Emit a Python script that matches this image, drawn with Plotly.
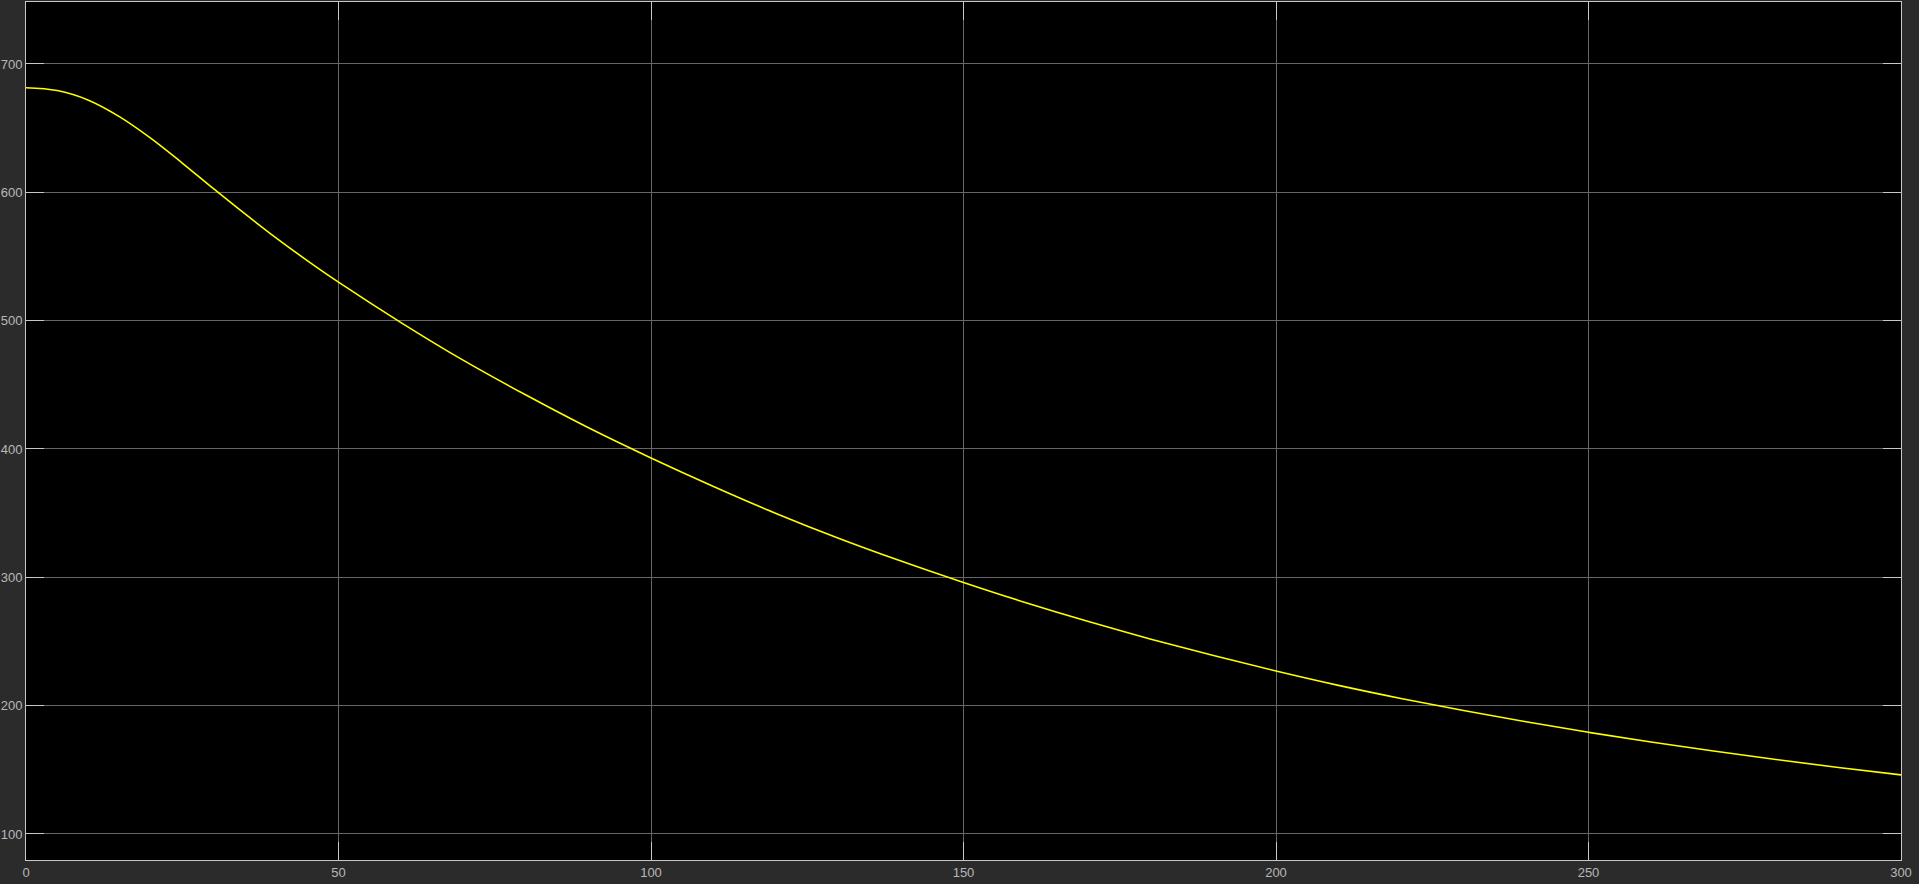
import plotly.graph_objects as go

# time (s) and signal values
t_vals = [0, 5, 10, 15, 20, 25, 30, 35, 40, 45, 50, 60, 70, 80, 90, 100,
          110, 120, 130, 140, 150, 160, 170, 180, 190, 200,
          210, 220, 230, 240, 250, 260, 270, 280, 290, 300]
y_vals = [681.5, 679.3, 671.8, 658.8, 642.0, 622.8, 602.8, 583.3, 564.5, 546.8, 530.0,
          498.5, 469.0, 442.0, 416.5, 393.0,
          370.8, 349.8, 330.5, 312.7, 296.0,
          280.2, 265.5, 251.8, 239.0, 227.0,
          215.8, 205.6, 196.2, 187.4, 179.2,
          171.6, 164.6, 158.0, 151.8, 146.0]

x_ticks = [0, 50, 100, 150, 200, 250, 300]
y_ticks = [100, 200, 300, 400, 500, 600, 700]

fig = go.Figure()
fig.add_trace(go.Scatter(
    x=t_vals, y=y_vals, mode="lines",
    line=dict(color="#ffff00", width=1.6, shape="spline", smoothing=1.0),
    hoverinfo="skip", showlegend=False,
))

axis_common = dict(
    showgrid=True, gridcolor="#666666", gridwidth=1,
    zeroline=False, automargin=False,
    showline=True, linecolor="#c8c8c8", linewidth=1, mirror="allticks",
    ticks="inside", ticklen=18, tickwidth=1, tickcolor="#c8c8c8",
    tickfont=dict(family="Liberation Sans, Arial, sans-serif", size=13, color="#b8b8b8"),
)

fig.update_xaxes(range=[0, 300], tickmode="array", tickvals=x_ticks,
                 ticktext=[str(v) for v in x_ticks], **axis_common)
fig.update_yaxes(range=[79.7, 748.3], tickmode="array", tickvals=y_ticks,
                 ticktext=[str(v) for v in y_ticks], **axis_common)

fig.update_layout(
    width=1919, height=884,
    margin=dict(l=26, r=18, t=2, b=24, pad=0),
    paper_bgcolor="#2b2b2b", plot_bgcolor="#000000",
    showlegend=False,
)

fig.write_html(
    "out.html",
    config={"displayModeBar": False},
    post_script="document.body.style.margin='0';document.body.style.background='#2b2b2b';document.body.style.overflow='hidden';",
)
